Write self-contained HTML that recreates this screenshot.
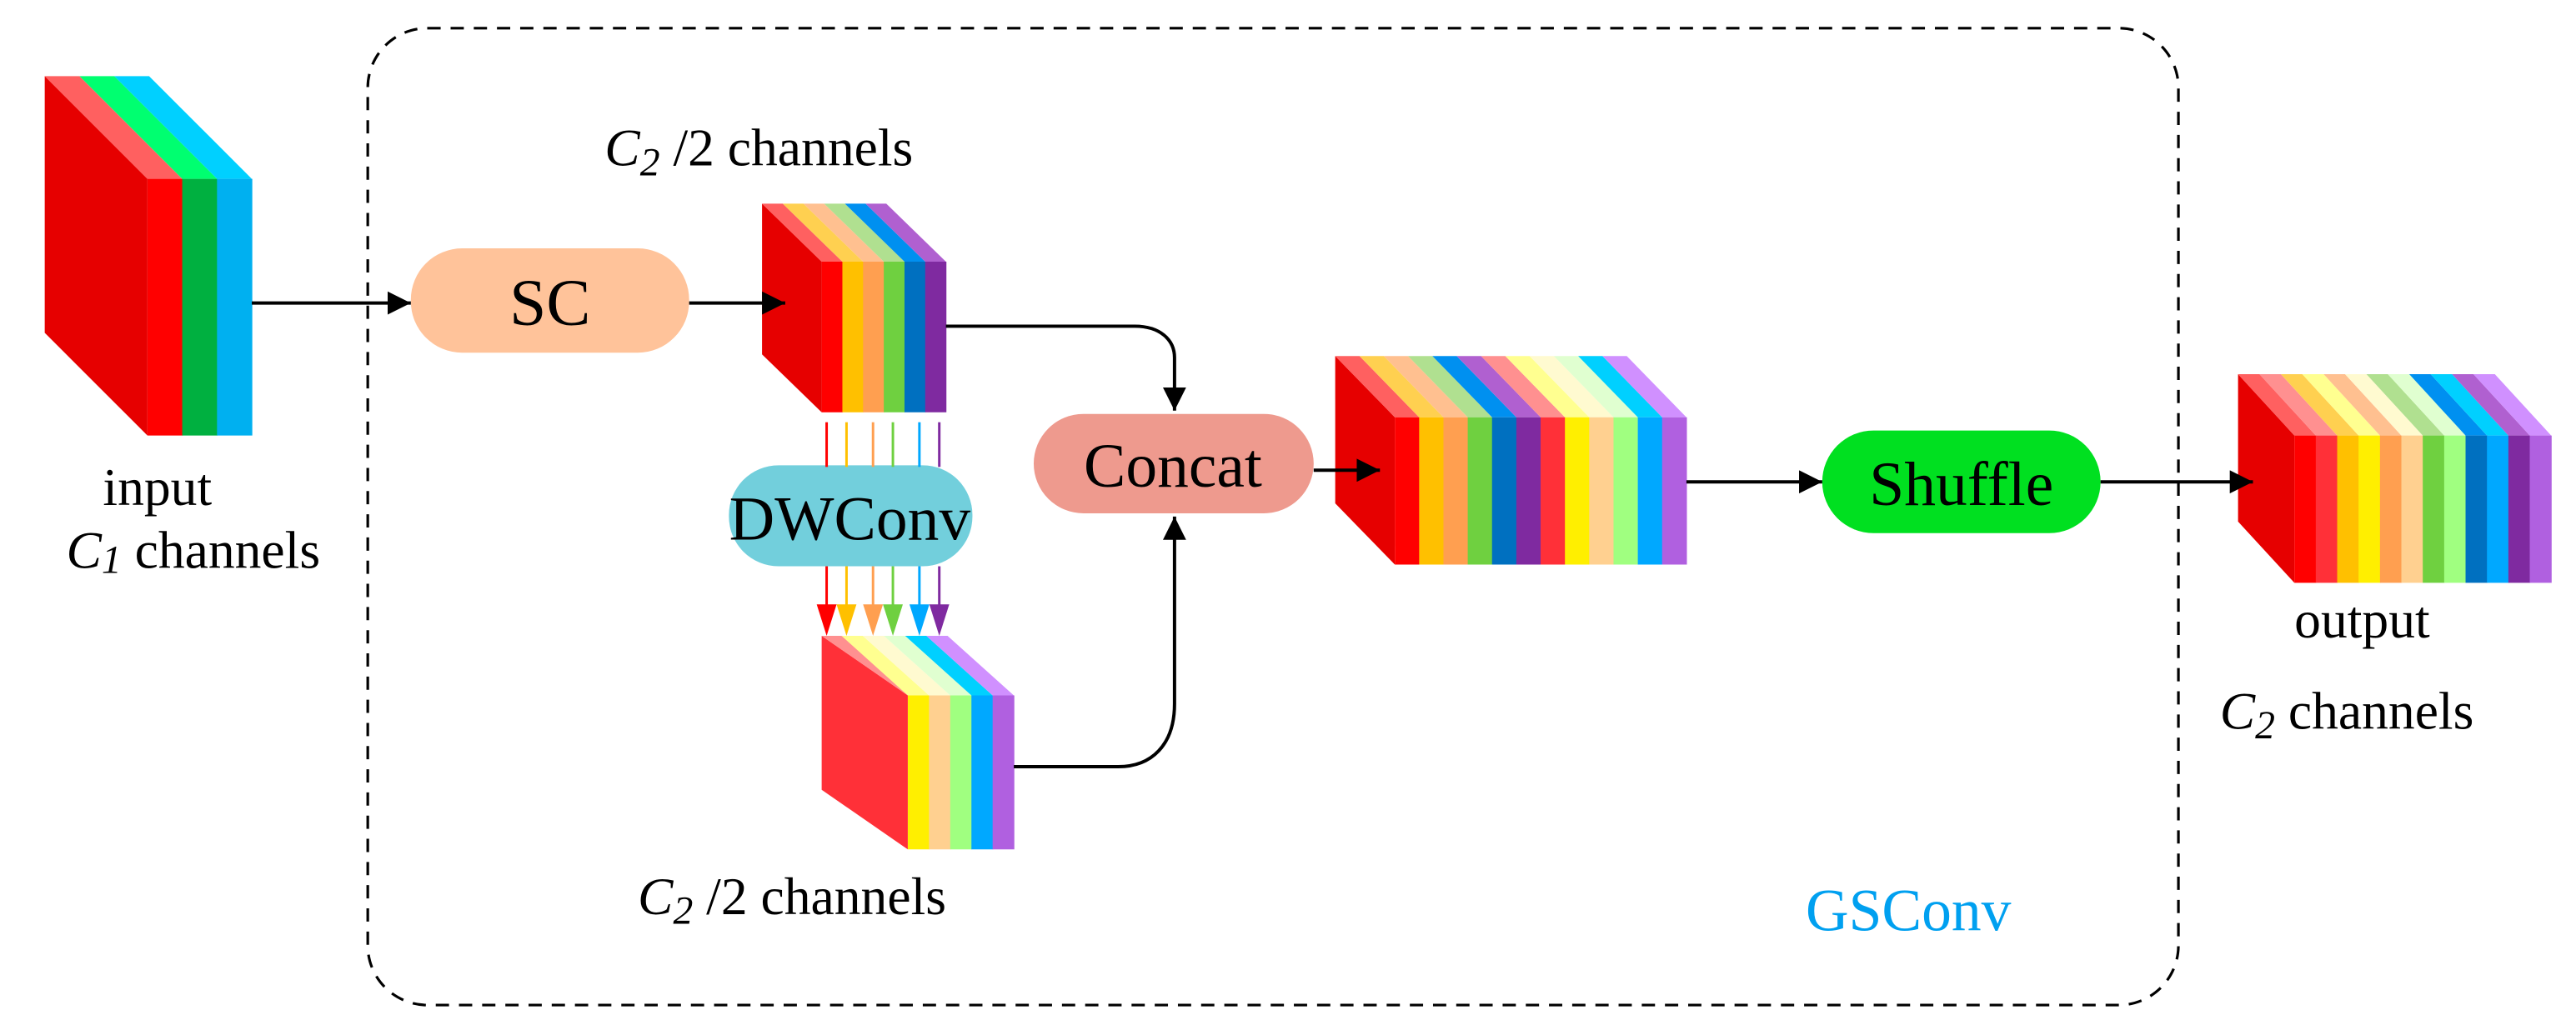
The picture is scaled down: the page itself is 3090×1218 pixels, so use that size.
<!DOCTYPE html>
<html><head><meta charset="utf-8"><style>
html,body{margin:0;padding:0;background:#fff;width:3090px;height:1218px;overflow:hidden}
svg{display:block}
text{font-family:"Liberation Serif","DejaVu Serif",serif !important}
</style></head><body>
<svg id="s" width="3090" height="1218" viewBox="0 0 1555 613" preserveAspectRatio="none" xmlns="http://www.w3.org/2000/svg" font-family="Liberation Serif, DejaVu Serif, serif">
<defs>
<marker id="ah" viewBox="0 0 10 10" refX="10" refY="5" markerWidth="16" markerHeight="14" markerUnits="userSpaceOnUse" orient="auto"><path d="M0,0 L10,5 L0,10 z" fill="#000"/></marker>
</defs>
<rect x="222" y="17" width="1093" height="590" rx="36" fill="none" stroke="#000" stroke-width="1.6" stroke-dasharray="8,6"/>
<g id="blocks"></g>
<rect x="248" y="150" width="168" height="63" rx="31" fill="#ffc39a"/>
<text x="332" y="196" font-size="40" text-anchor="middle" font-family="Liberation Serif, serif">SC</text>
<rect x="440" y="281" width="147" height="61" rx="30" fill="#72cfdc"/>
<text x="513" y="326" font-size="38" text-anchor="middle" font-family="Liberation Serif, serif">DWConv</text>
<rect x="624" y="250" width="169" height="60" rx="30" fill="#ee9a8e"/>
<text x="708" y="294" font-size="38" text-anchor="middle" font-family="Liberation Serif, serif">Concat</text>
<rect x="1100" y="260" width="168" height="62" rx="31" fill="#00e020"/>
<text x="1184" y="305" font-size="38" text-anchor="middle" font-family="Liberation Serif, serif">Shuffle</text>
<g stroke="#000" stroke-width="2" fill="none">
<line x1="152" y1="183" x2="248" y2="183" marker-end="url(#ah)"/>
<line x1="416" y1="183" x2="474" y2="183" marker-end="url(#ah)"/>
<path d="M571,197 H685 C700,197 709,205 709,216 V248" marker-end="url(#ah)"/>
<path d="M612,463 H675 C695,463 709,450 709,425 V312" marker-end="url(#ah)"/>
<line x1="793" y1="284" x2="833" y2="284" marker-end="url(#ah)"/>
<line x1="1018" y1="291" x2="1100" y2="291" marker-end="url(#ah)"/>
<line x1="1268" y1="291" x2="1360" y2="291" marker-end="url(#ah)"/>
</g>
<g id="carr"></g>
<g font-family="Liberation Serif, serif" font-size="32">
<text x="365" y="100"><tspan font-style="italic">C</tspan><tspan font-style="italic" font-size="24" dy="6">2</tspan><tspan dy="-6"> /2 channels</tspan></text>
<text x="95" y="305" text-anchor="middle">input</text>
<text x="40" y="343"><tspan font-style="italic">C</tspan><tspan font-style="italic" font-size="24" dy="3">1</tspan><tspan dy="-3"> channels</tspan></text>
<text x="385" y="552"><tspan font-style="italic">C</tspan><tspan font-style="italic" font-size="24" dy="6">2</tspan><tspan dy="-6"> /2 channels</tspan></text>
<text x="1385" y="385">output</text>
<text x="1340" y="440"><tspan font-style="italic">C</tspan><tspan font-style="italic" font-size="24" dy="6">2</tspan><tspan dy="-6">  channels</tspan></text>
<text x="1090" y="562" font-size="36" fill="#00a0f0">GSConv</text>
</g>
</svg>
<script>
var NS="http://www.w3.org/2000/svg";
function poly(g,pts,fill){var p=document.createElementNS(NS,"polygon");p.setAttribute("points",pts.map(function(a){return a.join(",")}).join(" "));p.setAttribute("fill",fill);g.appendChild(p);}
function block(fx,fy,fw,fh,dx,dy,side,sideTop,fronts,tops){
 var g=document.getElementById("blocks");
 poly(g,[[fx-dx,fy-dy],[fx,fy],[fx,fy+fh],[fx-dx,fy+fh-dy]],side);
 var n=fronts.length,w=fw/n;
 for(var i=0;i<n;i++){var a=fx+i*w,b=a+w;
  poly(g,[[a,fy],[b,fy],[b-dx,fy-dy],[a-dx,fy-dy]],tops[i]);
  poly(g,[[a,fy],[b+0.3,fy],[b+0.3,fy+fh],[a,fy+fh]],fronts[i]);}
}
block(89,108,63,155,62,62,"#e60000","#ff6060",["#ff0000","#00b040","#00b0f0"],["#ff6060","#00ff70","#00d0ff"]);
var F1=["#ff0000","#ffc000","#ff9f50","#6fd040","#0070c0","#7f2aa0"],T1=["#ff6060","#ffd050","#ffc090","#b0e090","#0090f0","#b060d0"];
var F2=["#ff3038","#ffef00","#ffd090","#a0ff80","#00a8ff","#b060e0"],T2=["#ff9090","#ffff90","#fffad0","#e0ffd0","#00d0ff","#d090ff"];
block(496,158,75,91,36,35,"#e60000","#ff6060",F1,T1);
(function(){var g=document.getElementById("blocks");
 poly(g,[[496,384],[548,420],[548,513],[496,477]],"#ff3038");})();
(function(){var fx=548,fy=420,fw=64,fh=93,dx=52,dy=36;var g=document.getElementById("blocks");
 poly(g,[[fx-dx,fy-dy],[fx-dx+12,fy-dy],[fx+12,fy],[fx,fy]],"#ff9090");
 var fr=F2.slice(1),tp=T2.slice(1),w=fw/5;
 for(var i=0;i<5;i++){var a=fx+i*w,b=a+w;poly(g,[[a,fy],[b,fy],[b-dx+12,fy-dy],[a-dx+12,fy-dy]],tp[i]);}
 for(var i=0;i<5;i++){var a=fx+i*w,b=a+w;poly(g,[[a,fy],[b+0.3,fy],[b+0.3,fy+fh],[a,fy+fh]],fr[i]);}
})();
block(842,252,176,89,36,37,"#e60000","#ff6060",F1.concat(F2),T1.concat(T2));
var F3=[],T3=[];for(var i=0;i<6;i++){F3.push(F1[i],F2[i]);T3.push(T1[i],T2[i]);}
block(1385,263,155,89,34,37,"#e60000","#ff6060",F3,T3);
var xs=[499,511,527,539,555,567],cs=["#ff0000","#ffc000","#ff9f50","#6fd040","#00a8ff","#7f2aa0"];
var ca=document.getElementById("carr");
for(var i=0;i<6;i++){
 var l=document.createElementNS(NS,"line");l.setAttribute("x1",xs[i]);l.setAttribute("x2",xs[i]);l.setAttribute("y1",255);l.setAttribute("y2",282);l.setAttribute("stroke",cs[i]);l.setAttribute("stroke-width","1.5");ca.appendChild(l);
 l=document.createElementNS(NS,"line");l.setAttribute("x1",xs[i]);l.setAttribute("x2",xs[i]);l.setAttribute("y1",342);l.setAttribute("y2",368);l.setAttribute("stroke",cs[i]);l.setAttribute("stroke-width","1.5");ca.appendChild(l);
 poly(ca,[[xs[i]-6,365],[xs[i]+6,365],[xs[i],384]],cs[i]);
}
</script>
</body></html>
